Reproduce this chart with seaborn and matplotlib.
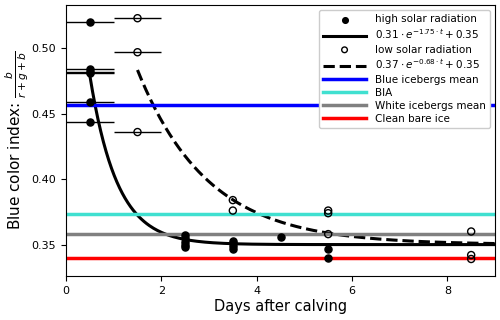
"""Blue color index of icebergs vs. days after calving."""

import matplotlib

matplotlib.use("Agg")
import matplotlib.pyplot as plt
import numpy as np
import seaborn as sb

# high solar radiation (filled)
high_days = [0.5, 0.5, 0.5, 0.5, 0.5, 0.5,
             2.5, 2.5, 2.5, 2.5, 2.5,
             3.5, 3.5, 3.5, 3.5,
             4.5, 5.5, 5.5]
high_bci = [0.520, 0.484, 0.482, 0.481, 0.459, 0.444,
            0.357, 0.355, 0.352, 0.350, 0.348,
            0.353, 0.351, 0.349, 0.347,
            0.356, 0.347, 0.340]
high_err = [0.5, 0.5, 0.5, 0.5, 0.5, 0.5]  # only the first-day points carry bars

# low solar radiation (open)
low_days = [1.5, 1.5, 1.5, 3.5, 3.5, 5.5, 5.5, 5.5, 8.5, 8.5, 8.5]
low_bci = [0.523, 0.497, 0.436, 0.384, 0.376, 0.376, 0.374, 0.358,
           0.360, 0.342, 0.339]
low_err = [0.5, 0.5, 0.5]

# exponential fits a * exp(-k t) + c
high_fit = (0.31, 1.75, 0.35)
low_fit = (0.37, 0.68, 0.35)

# reference levels
ref_labels = ["Blue icebergs mean", "BIA", "White icebergs mean", "Clean bare ice"]
ref_values = [0.457, 0.373, 0.358, 0.340]
ref_colors = ["blue", "turquoise", "gray", "red"]

fig = plt.figure(figsize=(5, 3.2), dpi=100)
ax = fig.add_axes([0.132, 0.1375, 0.858, 0.8465])

ax.errorbar(high_days[:len(high_err)], high_bci[:len(high_err)], xerr=high_err,
            fmt="none", ecolor="black", elinewidth=1)
ax.errorbar(low_days[:len(low_err)], low_bci[:len(low_err)], xerr=low_err,
            fmt="none", ecolor="black", elinewidth=1)

sb.scatterplot(x=high_days, y=high_bci, ax=ax, color="black", s=26,
               edgecolor="black", linewidth=1, zorder=5,
               label="high solar radiation")
t_high = np.linspace(0.5, 9, 300)
a, k, c = high_fit
sb.lineplot(x=t_high, y=a * np.exp(-k * t_high) + c, ax=ax, color="black", lw=2.2,
            label=r"$0.31\cdot e^{-1.75\cdot t}+0.35$")

sb.scatterplot(x=low_days, y=low_bci, ax=ax, s=26, facecolor="none",
               edgecolor="black", linewidth=1, zorder=5,
               label="low solar radiation")
t_low = np.linspace(1.5, 9, 300)
a, k, c = low_fit
sb.lineplot(x=t_low, y=a * np.exp(-k * t_low) + c, ax=ax, color="black", lw=2.2,
            linestyle="--", label=r"$0.37\cdot e^{-0.68\cdot t}+0.35$")

for lab, val, col in zip(ref_labels, ref_values, ref_colors):
    ax.axhline(val, color=col, lw=2.5, label=lab)

ax.set_xlim(0, 9)
ax.set_ylim(0.326, 0.533)
ax.set_yticks([0.35, 0.40, 0.45, 0.50])
ax.set_xticks([0, 2, 4, 6, 8])
ax.tick_params(labelsize=8)
ax.set_xlabel("Days after calving", fontsize=10.5, labelpad=2)
ax.set_ylabel(r"Blue color index: $\frac{b}{r+g+b}$", fontsize=11)
ax.yaxis.set_label_coords(-0.082, 0.5)
leg = ax.legend(loc="upper right", fontsize=7.5, labelspacing=0.3, handlelength=4.2,
                markerscale=0.8, framealpha=1)
leg.set_zorder(10)

fig.savefig("out.png", dpi=100)
